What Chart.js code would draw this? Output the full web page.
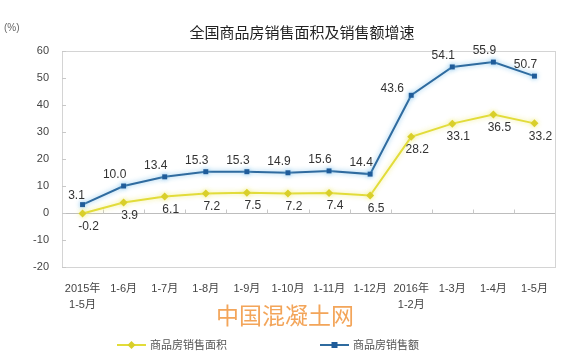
<!DOCTYPE html>
<html><head><meta charset="utf-8">
<script src="https://cdn.jsdelivr.net/npm/chart.js@4"></script>
<style>html,body{margin:0;padding:0;background:#fff;}#wrap{position:relative;width:570px;height:357px;}</style>
</head><body><div id="wrap"><canvas id="c" width="570" height="357"></canvas></div>
<script>
const categories = [['2015年','1-5月'],'1-6月','1-7月','1-8月','1-9月','1-10月','1-11月','1-12月',['2016年','1-2月'],'1-3月','1-4月','1-5月'];
const areaGrowth = [-0.2,3.9,6.1,7.2,7.5,7.2,7.4,6.5,28.2,33.1,36.5,33.2];
const salesGrowth = [3.1,10.0,13.4,15.3,15.3,14.9,15.6,14.4,43.6,54.1,55.9,50.7];
const yMin = -20, yMax = 60, yStep = 10;
const seriesNames = ['商品房销售面积','商品房销售额'];
const titleText = '全国商品房销售面积及销售额增速';
const unitText = '(%)';
const watermarkText = '中国混凝土网';

const FONT = '"Liberation Sans", Arial, "Noto Sans CJK SC", sans-serif';
const CJK = '"Noto Sans CJK SC", "Liberation Sans", sans-serif';
const YEL = '#e2dc3a', YEL_M = '#d9cf2a', BLU = '#2f6b9f', BLU_M = '#1f5c9a';

const decor = {
  id: 'decor',
  beforeDatasetsDraw(chart) {
    const {ctx, chartArea: a, scales} = chart;
    ctx.save();
    ctx.strokeStyle = '#d4d4d4'; ctx.lineWidth = 1;
    ctx.strokeRect(Math.round(a.left)+0.5, Math.round(a.top)+0.5, Math.round(a.right-a.left), Math.round(a.bottom-a.top));
    ctx.strokeStyle = '#c8c8c8';
    for (let v = yMin; v <= yMax; v += yStep) {
      const y = Math.round(scales.y.getPixelForValue(v)) + 0.5;
      ctx.beginPath(); ctx.moveTo(a.left, y); ctx.lineTo(a.left + 4, y); ctx.stroke();
    }
    const y0 = Math.round(scales.y.getPixelForValue(0)) + 0.5;
    const n = categories.length, w = (a.right - a.left) / n;
    for (let i = 1; i < n; i++) {
      const x = Math.round(a.left + i * w) + 0.5;
      ctx.beginPath(); ctx.moveTo(x, y0); ctx.lineTo(x, y0 - 4); ctx.stroke();
    }
    ctx.restore();
  },
  beforeDatasetDraw(chart, args) {
    const ctx = chart.ctx;
    ctx.save();
    ctx.shadowColor = args.index === 1 ? 'rgba(120,190,235,0.9)' : 'rgba(240,235,120,0.9)';
    ctx.shadowBlur = 5;
  },
  afterDatasetDraw(chart) { chart.ctx.restore(); },
  afterDatasetsDraw(chart) {
    const ctx = chart.ctx;
    ctx.save();
    ctx.font = '12px ' + FONT;
    ctx.fillStyle = '#333';
    ctx.textAlign = 'center'; ctx.textBaseline = 'middle';
    const mA = chart.getDatasetMeta(0), mB = chart.getDatasetMeta(1);
    mA.data.forEach((p, i) => {
      ctx.fillText(areaGrowth[i].toFixed(1), p.x + 6, p.y + 13);
    });
    mB.data.forEach((p, i) => {
      let dx = -9, dy = -11;
      if (i === 8) { dx = -19; dy = -7; }
      if (i === 0) { dx = -6; dy = -9; }
      ctx.fillText(salesGrowth[i].toFixed(1), p.x + dx, p.y + dy);
    });
    ctx.restore();
  },
  afterDraw(chart) {
    const ctx = chart.ctx;
    ctx.save();
    ctx.textBaseline = 'middle';
    ctx.fillStyle = '#222'; ctx.textAlign = 'center';
    ctx.font = '15px ' + CJK;
    ctx.fillText(titleText, 302, 32);
    ctx.font = '10px ' + FONT; ctx.fillStyle = '#666'; ctx.textAlign = 'left';
    ctx.fillText(unitText, 4, 28);
    ctx.font = '23px ' + CJK; ctx.fillStyle = '#f3a55a'; ctx.textAlign = 'center';
    ctx.fillText(watermarkText, 285, 315);
    const items = [
      {x: 117, color: YEL, mcolor: YEL_M, shape: 'diamond', name: seriesNames[0]},
      {x: 320, color: BLU, mcolor: BLU_M, shape: 'square', name: seriesNames[1]}
    ];
    const ly = 345;
    items.forEach(it => {
      ctx.strokeStyle = it.color; ctx.lineWidth = 2;
      ctx.beginPath(); ctx.moveTo(it.x, ly); ctx.lineTo(it.x + 29, ly); ctx.stroke();
      ctx.fillStyle = it.mcolor;
      const cx = it.x + 14.5;
      if (it.shape === 'diamond') {
        ctx.beginPath(); ctx.moveTo(cx, ly - 4); ctx.lineTo(cx + 4, ly); ctx.lineTo(cx, ly + 4); ctx.lineTo(cx - 4, ly); ctx.closePath(); ctx.fill();
      } else {
        ctx.fillRect(cx - 3, ly - 3, 6, 6);
      }
      ctx.fillStyle = '#555'; ctx.font = '11px ' + CJK; ctx.textAlign = 'left';
      ctx.fillText(it.name, it.x + 33, ly);
    });
    ctx.restore();
  }
};

new Chart(document.getElementById('c'), {
  type: 'line',
  data: {
    labels: categories,
    datasets: [
      {label: seriesNames[0], data: areaGrowth, borderColor: YEL, backgroundColor: YEL_M, borderWidth: 2,
       pointStyle: 'rectRot', pointRadius: 4, pointBorderWidth: 0, pointBackgroundColor: YEL_M, tension: 0},
      {label: seriesNames[1], data: salesGrowth, borderColor: BLU, backgroundColor: BLU_M, borderWidth: 2,
       pointStyle: 'rect', pointRadius: 3.5, pointBorderWidth: 0, pointBackgroundColor: BLU_M, tension: 0}
    ]
  },
  options: {
    responsive: false, devicePixelRatio: 1, animation: false,
    layout: {padding: {top: 51, right: 15, bottom: 0, left: 0}},
    plugins: {legend: {display: false}, title: {display: false}, tooltip: {enabled: false}},
    scales: {
      x: {
        offset: true,
        grid: {display: false}, border: {display: false},
        ticks: {font: {size: 11, family: FONT, lineHeight: 1.45}, color: '#444', padding: 6, maxRotation: 0, autoSkip: false},
        afterFit(s) { s.height = 90; }
      },
      y: {
        min: yMin, max: yMax,
        grid: {drawTicks: false, color: c => c.tick && c.tick.value === 0 ? '#bdbdbd' : 'rgba(0,0,0,0)', lineWidth: 1},
        border: {display: false},
        ticks: {stepSize: yStep, font: {size: 11, family: FONT}, color: '#444', padding: 13},
        afterFit(s) { s.width = 62; }
      }
    }
  },
  plugins: [decor]
});
</script></body></html>
